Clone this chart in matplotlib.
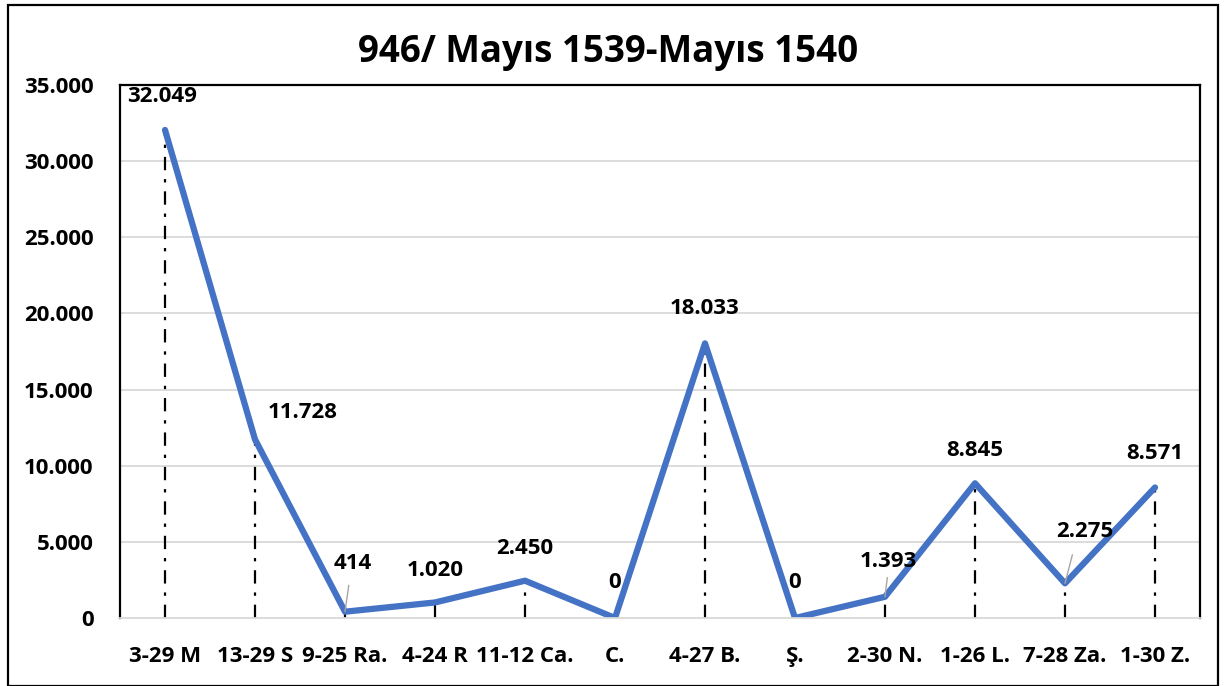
import matplotlib
matplotlib.use("Agg")
import matplotlib.pyplot as plt
from matplotlib.patches import Rectangle

categories = ["3-29 M", "13-29 S", "9-25 Ra.", "4-24 R", "11-12 Ca.", "C.",
              "4-27 B.", "Ş.", "2-30 N.", "1-26 L.", "7-28 Za.", "1-30 Z."]
values = [32049, 11728, 414, 1020, 2450, 0, 18033, 0, 1393, 8845, 2275, 8571]
value_labels = ["32.049", "11.728", "414", "1.020", "2.450", "0", "18.033", "0",
                "1.393", "8.845", "2.275", "8.571"]
yticks = [0, 5000, 10000, 15000, 20000, 25000, 30000, 35000]
ytick_labels = ["0", "5.000", "10.000", "15.000", "20.000", "25.000", "30.000", "35.000"]
title = "946/ Mayıs 1539-Mayıs 1540"

# label offsets in pixels (dx, dy) relative to each point
label_offsets = [(-3, 33), (48, 27), (8, 48), (0, 32), (0, 32), (0, 35),
                 (0, 35), (0, 35), (3, 35), (0, 33), (20, 52), (0, 34)]
leaders = {2, 8, 10}

plt.rcParams['font.family'] = ['Open Sans', 'DejaVu Sans']

fig = plt.figure(figsize=(12.25, 6.86), dpi=100)
W, H = 1225, 686
ax = fig.add_axes([120 / W, 1 - 618 / H, 1080 / W, 533 / H])

x = list(range(len(categories)))
ax.set_xlim(-0.5, len(categories) - 0.5)
ax.set_ylim(0, 35000)

for y in yticks[1:]:
    ax.axhline(y, color="#d9d9d9", lw=1.3, zorder=0)

for i, v in enumerate(values):
    ax.plot([i, i], [0, v], color="black", lw=1.6, ls=(0, (6, 4, 1.5, 4)), zorder=1)

ax.plot(x, values, color="#4472C4", lw=4.5, solid_capstyle="round",
        solid_joinstyle="round", zorder=2)

for i, (v, lab) in enumerate(zip(values, value_labels)):
    dx, dy = label_offsets[i]
    ax.annotate(lab, (i, v), xytext=(dx * 0.72, dy * 0.72), textcoords="offset points",
                ha="center", va="center", fontsize=16, fontweight="bold", zorder=3)
    if i in leaders:
        ax.annotate("", (i, v), xytext=(dx * 0.72 * 0.3 + 1, dy * 0.72 * 0.55),
                    textcoords="offset points",
                    arrowprops=dict(arrowstyle="-", color="#a6a6a6", lw=1.0,
                                    shrinkA=0, shrinkB=0), zorder=3)

ax.set_xticks(x)
ax.set_xticklabels(categories, fontsize=16, fontweight="bold")
ax.set_yticks(yticks)
ax.set_yticklabels(ytick_labels, fontsize=16, fontweight="bold")
ax.tick_params(axis="both", length=0)
ax.tick_params(axis="x", pad=20)
ax.tick_params(axis="y", pad=19)

for side in ["left", "top", "right"]:
    ax.spines[side].set_color("black")
    ax.spines[side].set_linewidth(1.6)
ax.spines["bottom"].set_color("#d9d9d9")
ax.spines["bottom"].set_linewidth(1.3)

fig.text(608 / W, 1 - 52 / H, title, ha="center", va="center",
         fontsize=26.5, fontweight="bold")

fig.patches.append(Rectangle((8 / W, 0), 1210 / W, 1 - 5 / H, transform=fig.transFigure,
                             fill=False, edgecolor="black", lw=1.6))

fig.savefig("out.png", dpi=100)
